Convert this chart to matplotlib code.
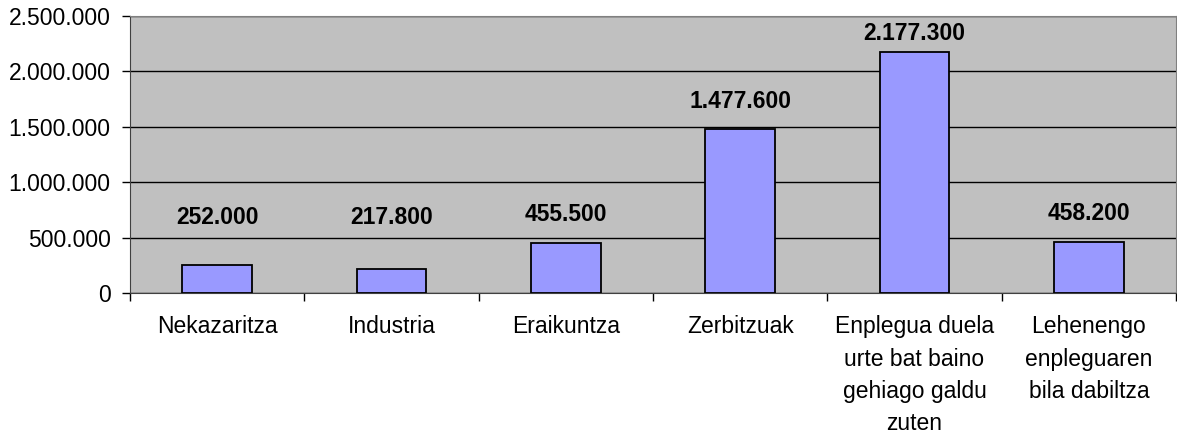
import numpy as np
import matplotlib.pyplot as plt
from matplotlib.ticker import FuncFormatter

# Datuak
kategoriak = ["Nekazaritza", "Industria", "Eraikuntza", "Zerbitzuak",
              "Enplegua duela\nurte bat baino\ngehiago galdu\nzuten",
              "Lehenengo\nenpleguaren\nbila dabiltza"]
balioak = [252000, 217800, 455500, 1477600, 2177300, 458200]
y_ticks = [0, 500000, 1000000, 1500000, 2000000, 2500000]


def puntuak(v, pos=None):
    return f"{int(v):,}".replace(",", ".")


plt.rcParams['font.family'] = ['Liberation Sans', 'DejaVu Sans']

fig = plt.figure(figsize=(11.77, 4.36), dpi=100)
ax = fig.add_axes([130/1177, 1 - 293/436, 1046/1177, 277/436])
ax.set_facecolor('#C0C0C0')

x = np.arange(len(balioak))
ax.bar(x, balioak, width=0.4, color='#9999FF', edgecolor='black', linewidth=1.3, zorder=3)

# Etiketak barren gainean
etiketa_y = np.clip(np.array(balioak) + 255000, 680000, 2340000)
for xi, v, ly in zip(x, balioak, etiketa_y):
    ax.text(xi, ly, puntuak(v), ha='center', va='center',
            fontsize=16.5, fontweight='bold', color='black', zorder=4)

ax.set_xlim(-0.5, len(balioak) - 0.5)
ax.set_ylim(0, 2500000)
ax.set_yticks(y_ticks)
ax.yaxis.set_major_formatter(FuncFormatter(puntuak))
ax.yaxis.grid(True, color='black', linewidth=1, zorder=1)
ax.set_axisbelow(True)

ax.set_xticks(x)
ax.set_xticklabels(kategoriak, linespacing=1.52, va='top')
ax.set_xticks(np.arange(-0.5, len(balioak)), minor=True)
ax.tick_params(axis='x', which='major', length=0, pad=16, labelsize=16.5)
ax.tick_params(axis='x', which='minor', length=6, color='black', width=1)
ax.tick_params(axis='y', length=6, width=1, color='black', labelsize=16.5, pad=8)

for s in ['top', 'right']:
    ax.spines[s].set_color('#808080')
ax.spines['left'].set_color('#404040')
ax.spines['bottom'].set_color('#404040')

fig.savefig('out.png', dpi=100)
